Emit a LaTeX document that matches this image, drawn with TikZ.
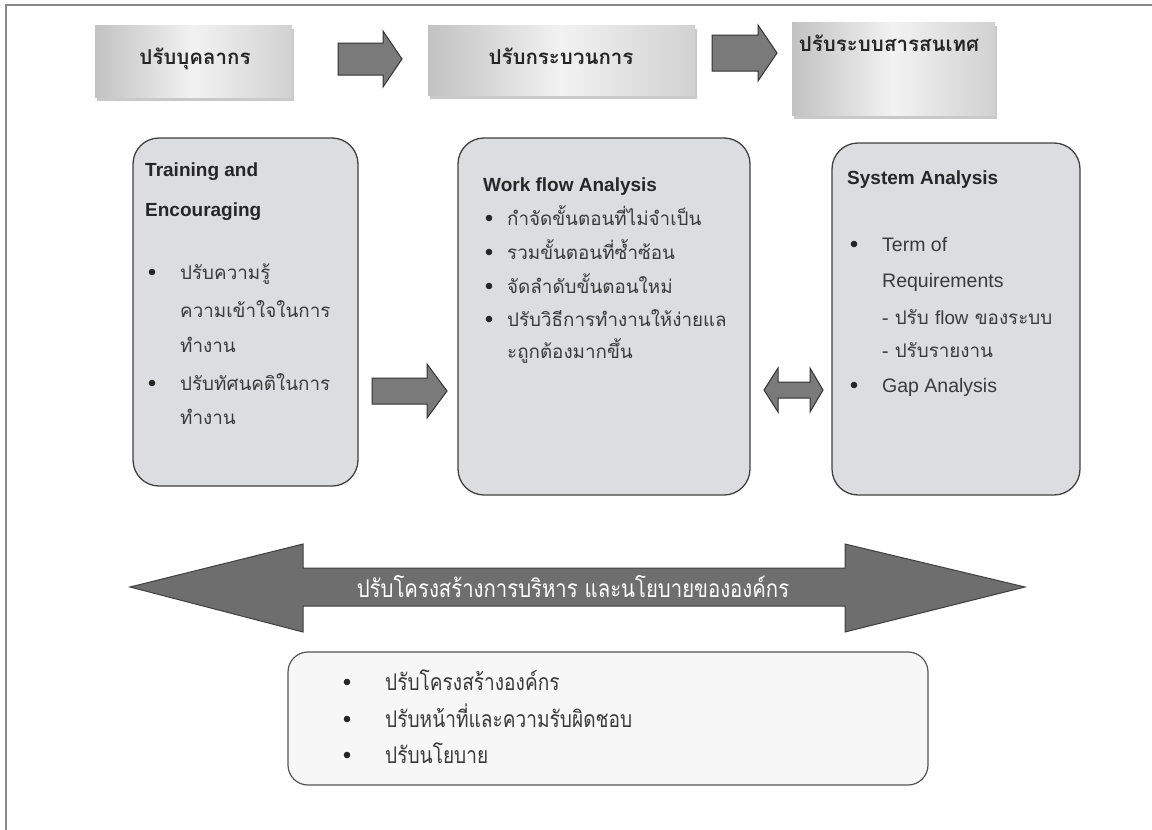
\documentclass[tikz,border=0pt]{standalone}
\usepackage{fontspec}
\setmainfont{Liberation Sans}
\newfontfamily\thai[Script=Thai]{Loma}
\newfontfamily\thaic[Script=Thai,FakeStretch=0.83]{Loma}
\usetikzlibrary{shadows}
\definecolor{boxfill}{HTML}{DCDDE0}
\definecolor{boxline}{HTML}{404040}
\definecolor{arrfill}{HTML}{7A7A7A}
\definecolor{bigfill}{HTML}{6E6E6E}
\definecolor{txt}{HTML}{3A3A3A}
\definecolor{frame}{HTML}{8A8A8A}
\tikzset{
  topbox/.style={draw=none, inner sep=0, left color=black!24, right color=black!18, middle color=black!5,
     drop shadow={shadow xshift=2pt, shadow yshift=-4pt, opacity=.3, fill=black!70}},
  toptext/.style={anchor=base, inner sep=0, text=black!85, font=\thai\bfseries\fontsize{20.5}{24}\selectfont},
  rbox/.style={draw=boxline, line width=1.3pt, fill=boxfill, rounded corners=26, inner sep=0},
  wbox/.style={draw=boxline!90, line width=1.2pt, fill=black!3, rounded corners=20, inner sep=0},
  head/.style={anchor=base west, inner sep=0, text=black!85, font=\bfseries\fontsize{19}{22}\selectfont},
  eng/.style={anchor=base west, inner sep=0, text=txt, font=\fontsize{19.5}{22}\selectfont},
  th/.style={anchor=base west, inner sep=0, text=txt, font=\thai\fontsize{18.8}{22}\selectfont},
  thc/.style={anchor=base west, inner sep=0, text=txt, font=\thaic\fontsize{23}{26}\selectfont},
  blockarrow/.style={draw=black!80, line width=1pt, fill=arrfill, line join=miter},
  bigarrow/.style={draw=black!75, line width=1pt, fill=bigfill, line join=miter},
  dot/.style={fill=black!85}
}
\begin{document}
\begin{tikzpicture}[x=1pt,y=-1pt]
\useasboundingbox (0,0) rectangle (1152,830);
% frame
\draw[frame, line width=2pt] (6,830) -- (6,5) -- (1152,5);

% top boxes
\node[topbox, minimum width=197, minimum height=72] (b1) at (193.5,61) {};
\node[toptext] (b1t) at (195,64) {ปรับบุคลากร};
\node[topbox, minimum width=267, minimum height=70] (b2) at (561.5,60) {};
\node[toptext] (b2t) at (561,64) {ปรับกระบวนการ};
\node[topbox, minimum width=203, minimum height=93] (b3) at (893.5,68.5) {};
\node[toptext] (b3t) at (889,51) {ปรับระบบสารสนเทศ};

% top arrows
\filldraw[blockarrow] (338,43) -- (383,43) -- (383,31) -- (402,59) -- (383,87) -- (383,75) -- (338,75) -- cycle;
\filldraw[blockarrow] (712,35) -- (758,35) -- (758,25) -- (777,53) -- (758,81) -- (758,71) -- (712,71) -- cycle;

% rounded boxes
\node[rbox, minimum width=225, minimum height=348] (A) at (245.5,312) {};
\node[rbox, minimum width=292, minimum height=357] (B) at (604,316.5) {};
\node[rbox, minimum width=248, minimum height=352] (C) at (956,319) {};

% box A text
\node[head] (a1) at (145,176) {Training and};
\node[head] (a2) at (145,216) {Encouraging};
\fill[dot] (152,272) circle (3.3);
\node[th] (a3) at (180,279) {ปรับความรู้};
\node[th] (a4) at (180,317) {ความเข้าใจในการ};
\node[th] (a5) at (180,352) {ทำงาน};
\fill[dot] (152,383) circle (3.3);
\node[th] (a6) at (180,390) {ปรับทัศนคติในการ};
\node[th] (a7) at (180,424) {ทำงาน};

% box B text
\node[head] (w1) at (483,191) {Work flow Analysis};
\fill[dot] (489,218) circle (3.3);
\node[th] (w2) at (507,225) {กำจัดขั้นตอนที่ไม่จำเป็น};
\fill[dot] (489,252) circle (3.3);
\node[th] (w3) at (507,259) {รวมขั้นตอนที่ซ้ำซ้อน};
\fill[dot] (489,286) circle (3.3);
\node[th] (w4) at (507,293) {จัดลำดับขั้นตอนใหม่};
\fill[dot] (489,319) circle (3.3);
\node[th] (w5) at (507,326) {ปรับวิธีการทำงานให้ง่ายแล};
\node[th] (w6) at (507,358) {ะถูกต้องมากขึ้น};

% box C text
\node[head] (s1) at (847,184) {System Analysis};
\fill[dot] (854,244) circle (3.3);
\node[eng] (s2) at (882,251) {Term of};
\node[eng] (s3) at (882,287) {Requirements};
\node[th] (s4) at (882,324) {- ปรับ {\fontspec{Liberation Sans}flow} ของระบบ};
\node[th] (s5) at (882,357) {- ปรับรายงาน};
\fill[dot] (854,385) circle (3.3);
\node[eng] (s6) at (882,392) {Gap Analysis};

% arrows between boxes
\filldraw[blockarrow] (372,378) -- (427,378) -- (427,364) -- (447,391) -- (427,418) -- (427,404) -- (372,404) -- cycle;
\filldraw[blockarrow] (764,390) -- (778,368) -- (778,382) -- (810,382) -- (810,368) -- (823,390) -- (810,412) -- (810,398) -- (778,398) -- (778,412) -- cycle;

% big double arrow
\filldraw[bigarrow] (130,587) -- (303,544) -- (303,568) -- (845,568) -- (845,544) -- (1025,587) -- (845,632) -- (845,606) -- (303,606) -- (303,632) -- cycle;
\node[anchor=base, inner sep=0, text=white, font=\thaic\fontsize{24.5}{27}\selectfont] (bt) at (573,597) {ปรับโครงสร้างการบริหาร และนโยบายขององค์กร};

% bottom box
\node[wbox, minimum width=640, minimum height=133] (D) at (608,718.5) {};
\fill[dot] (347,682) circle (3.3);
\node[thc] (d1) at (385,690) {ปรับโครงสร้างองค์กร};
\fill[dot] (347,719) circle (3.3);
\node[thc] (d2) at (385,727) {ปรับหน้าที่และความรับผิดชอบ};
\fill[dot] (347,755) circle (3.3);
\node[thc] (d3) at (385,763) {ปรับนโยบาย};
\end{tikzpicture}
\end{document}
